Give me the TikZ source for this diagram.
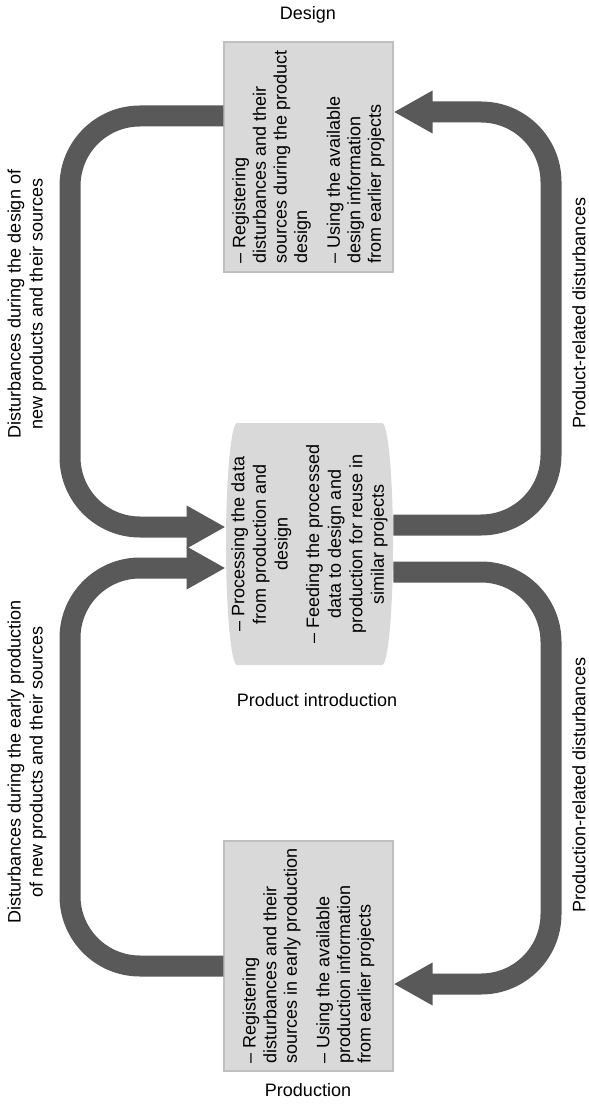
\documentclass[tikz,border=0pt]{standalone}
\usepackage{fontspec}
\setmainfont{Liberation Sans}
\definecolor{ArrowGray}{HTML}{595959}
\definecolor{BoxGray}{HTML}{D9D9D9}
\definecolor{EdgeGray}{HTML}{BFBFBF}
\usetikzlibrary{arrows.meta}
\tikzset{
  box/.style={draw=EdgeGray, line width=0.6pt, fill=BoxGray, rotate=90, align=left, minimum width=115pt, minimum height=84.5pt, inner sep=0pt, font=\fontsize{9}{10.3}\selectfont},
  introbox/.style={rotate=90, align=center, minimum width=121pt, minimum height=83.5pt, inner sep=0pt, font=\fontsize{9}{10.8}\selectfont},
  caption/.style={align=center, inner sep=0pt, font=\fontsize{9}{11}\selectfont},
  flow/.style={-{Triangle[length=19.5pt, width=20pt]}, line width=10.5pt, draw=ArrowGray, rounded corners=35pt}
}
\begin{document}
\begin{tikzpicture}[x=0.5pt, y=-0.5pt]
\useasboundingbox (0,0) rectangle (588,1106);

% product introduction store
\fill[BoxGray] (237,423) -- (382,423) .. controls (388.1,423) and (393,477.2) .. (393,544)
  .. controls (393,610.8) and (388.1,665) .. (382,665) -- (237,665)
  .. controls (231.1,665) and (226,610.8) .. (226,544)
  .. controls (226,477.2) and (231.1,423) .. (237,423) -- cycle;

\node[box] (design) at (308.5,157) {– Registering\\disturbances and their\\sources during the product\\design\\[6pt]– Using the available\\design information\\from earlier projects};
\node[introbox] (intro) at (309.5,544) {– Processing the data\\from production and\\design\\[5pt]– Feeding the processed\\data to design and\\production for reuse in\\similar projects};
\node[box] (prod) at (308.5,956) {– Registering\\disturbances and their\\sources in early production\\[6pt]– Using the available\\production information\\from earlier projects};

\node[caption] (designlabel) at (308,15) {Design};
\node[caption] (introlabel) at (317,700) {Product introduction};
\node[caption] (prodlabel) at (308,1090) {Production};

% feedback loops
\draw[flow] (design.north |- 0,116) -| (70,527) -- (intro.north |- 0,527);
\draw[flow] (prod.north |- 0,966) -| (70,568) -- (intro.north |- 0,568);
\draw[flow] (intro.south |- 0,525) -| (551,112) -- (design.south |- 0,112);
\draw[flow] (intro.south |- 0,572) -| (551,984) -- (prod.south |- 0,984);

\node[caption, rotate=90] (designdist) at (27,304) {Disturbances during the design of\\new products and their sources};
\node[caption, rotate=90] (proddist) at (27,762) {Disturbances during the early production\\of new products and their sources};
\node[caption, rotate=90] (productrel) at (579,313) {Product-related disturbances};
\node[caption, rotate=90] (productionrel) at (579,785) {Production-related disturbances};
\end{tikzpicture}
\end{document}
